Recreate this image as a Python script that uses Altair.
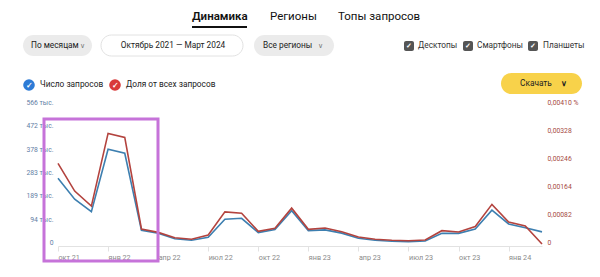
import json
import altair as alt
import pandas as pd

# ---- data ----
months = ["2021-10", "2021-11", "2021-12", "2022-01", "2022-02", "2022-03", "2022-04",
          "2022-05", "2022-06", "2022-07", "2022-08", "2022-09", "2022-10", "2022-11",
          "2022-12", "2023-01", "2023-02", "2023-03", "2023-04", "2023-05", "2023-06",
          "2023-07", "2023-08", "2023-09", "2023-10", "2023-11", "2023-12", "2024-01",
          "2024-02", "2024-03"]
queries_k = [266, 181, 131, 383, 367, 55, 44, 21, 15, 27, 100, 104, 46, 59, 135,
             54, 57, 44, 23, 15, 11, 9, 12, 43, 43, 61, 137, 81, 66, 49]
share_pct = [0.00236, 0.00155, 0.00111, 0.00324, 0.00312, 0.00044, 0.00034, 0.000185,
             0.000138, 0.000264, 0.00094, 0.0009, 0.00037, 0.00046, 0.00105, 0.00043,
             0.00047, 0.00036, 0.000205, 0.000138, 0.000108, 0.000097, 0.000117,
             0.00039, 0.00035, 0.00051, 0.00116, 0.00064, 0.00053, 0.0]
x_tick_labels = ["окт 21", "янв 22", "апр 22", "июл 22", "окт 22", "янв 23",
                 "апр 23", "июл 23", "окт 23", "янв 24"]
left_ticks = [0, 94.4, 188.8, 283.2, 377.6, 472.0, 566.4]
left_labels = ["0", "94 тыс.", "189 тыс.", "283 тыс.", "378 тыс.", "472 тыс.", "566 тыс."]
right_ticks = [0, 0.00082, 0.00164, 0.00246, 0.00328, 0.0041]
right_labels = ["0", "0,00082", "0,00164", "0,00246", "0,00328", "0,00410 %"]

df = pd.DataFrame({"i": list(range(len(months))), "month": months,
                   "q": queries_k, "s": share_pct})

FONT = "Roboto"
OX, OY = 58, 104  # plot origin inside the 600x277 canvas
UI = 8.3   # UI text size
TAB = 11.5  # tab text size

x_enc = alt.X("i:Q", scale=alt.Scale(domain=[0, len(months) - 1], nice=False, zero=False),
              axis=alt.Axis(values=[0, 3, 6, 9, 12, 15, 18, 21, 24, 27],
                            labelExpr=json.dumps(x_tick_labels, ensure_ascii=False) + "[round(datum.value/3)]",
                            title=None, grid=False, offset=2, domainColor="#e2e2e2",
                            tickColor="#e2e2e2", tickSize=5, labelAlign="left",
                            labelPadding=2, labelFontSize=7.2, labelColor="#8a8a8a",
                            labelFont=FONT))

blue = alt.Chart(df).mark_line(color="#3d7fb0", strokeWidth=1.6).encode(
    x=x_enc,
    y=alt.Y("q:Q", scale=alt.Scale(domain=[0, 566.4], nice=False),
            axis=alt.Axis(orient="left", values=left_ticks, title=None, grid=False,
                          domain=False, ticks=False, labelPadding=5,
                          labelExpr=json.dumps(left_labels, ensure_ascii=False) + "[round(datum.value*6/566.4)]",
                          labelFontSize=6.8, labelColor="#5f7ea5", labelFont=FONT,
                          labelOffset=-1.5)))

red = alt.Chart(df).mark_line(color="#b3433e", strokeWidth=1.6).encode(
    x=x_enc,
    y=alt.Y("s:Q", scale=alt.Scale(domain=[0, 0.0041], nice=False),
            axis=alt.Axis(orient="right", values=right_ticks, title=None, grid=False,
                          domain=False, ticks=False, labelPadding=5,
                          labelExpr=json.dumps(right_labels, ensure_ascii=False) + "[round(datum.value/0.00082)]",
                          labelFontSize=6.8, labelColor="#a64a44", labelFont=FONT,
                          labelOffset=-1.5)))

lines = alt.layer(blue, red).resolve_scale(y="independent")

one = alt.Data(values=[{}])


def txt(s, x, y, size=UI, color="#222", weight="normal", align="left"):
    return alt.Chart(one).mark_text(text=s, fontSize=size, color=color, fontWeight=weight,
                                    align=align, baseline="middle", font=FONT).encode(
        x=alt.value(x - OX), y=alt.value(y - OY))


def box(x1, x2, y1, y2, fill, stroke=None, radius=0, sw=1):
    kw = dict(fill=fill, cornerRadius=radius)
    if stroke:
        kw.update(stroke=stroke, strokeWidth=sw)
    return alt.Chart(one).mark_rect(**kw).encode(
        x=alt.value(x1 - OX), x2=alt.value(x2 - OX),
        y=alt.value(y1 - OY), y2=alt.value(y2 - OY))


def dot(x, y, color, size=135):
    return alt.Chart(one).mark_point(filled=True, shape="circle", size=size, color=color,
                                     opacity=1).encode(x=alt.value(x - OX), y=alt.value(y - OY))


decos = [
    # tabs
    txt("Динамика", 192, 17, TAB, "#111", 600),
    box(192, 247, 26, 28, "#111"),
    txt("Регионы", 270, 17, TAB, "#111"),
    txt("Топы запросов", 338, 17, TAB, "#111"),
    # controls
    box(23, 92, 35, 56, "#ebebeb", radius=10.5),
    txt("По месяцам", 31, 45.5),
    txt("∨", 80, 45.5, 6.5, "#777"),
    box(101, 243, 35, 56, "#ffffff", stroke="#e2e2e2", radius=10.5),
    txt("Октябрь 2021 — Март 2024", 173, 45.5, align="center"),
    box(254, 334, 35, 56, "#ebebeb", radius=10.5),
    txt("Все регионы", 263, 45.5),
    txt("∨", 318, 45.5, 6.5, "#777"),
    # checkboxes
    box(404, 414, 41, 51, "#555555", radius=2),
    txt("✓", 409, 46, 7, "#ffffff", "bold", "center"),
    txt("Десктопы", 418, 46, UI, "#333"),
    box(463, 473, 41, 51, "#555555", radius=2),
    txt("✓", 468, 46, 7, "#ffffff", "bold", "center"),
    txt("Смартфоны", 477, 46, UI, "#333"),
    box(528, 538, 41, 51, "#555555", radius=2),
    txt("✓", 533, 46, 7, "#ffffff", "bold", "center"),
    txt("Планшеты", 543, 46, UI, "#333"),
    # legend
    dot(29, 85, "#2d7bd6"),
    txt("✓", 29, 85.5, 7.5, "#ffffff", "bold", "center"),
    txt("Число запросов", 40, 85),
    dot(115, 85, "#d93a3a"),
    txt("✓", 115, 85.5, 7.5, "#ffffff", "bold", "center"),
    txt("Доля от всех запросов", 126, 85),
    # download button
    box(501, 582, 73, 94, "#f8d24a", radius=10.5),
    txt("Скачать", 520, 83.5),
    txt("∨", 561, 83.5, 8, "#222", "bold"),
]

highlight = alt.Chart(one).mark_rect(fill=None, stroke="#c673d9", strokeWidth=3).encode(
    x=alt.value(44 - OX), x2=alt.value(158 - OX),
    y=alt.value(119 - OY), y2=alt.value(261 - OY))

chart = alt.layer(lines, *decos, highlight).properties(
    width=600 - OX - 58, height=244 - OY,
    padding={"left": OX, "top": OY, "right": 58, "bottom": 277 - 244},
    autosize=alt.AutoSizeParams(type="none"),
    background="#ffffff",
).configure_view(stroke=None)

chart.save("out.html", embed_options={"renderer": "svg", "actions": False})
